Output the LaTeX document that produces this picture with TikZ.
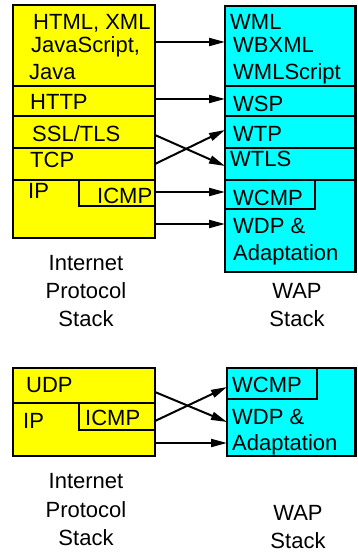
\documentclass[tikz,border=0pt]{standalone}
\usepackage{fontspec}
\setmainfont{Liberation Sans}
\usetikzlibrary{arrows.meta,fit}
\definecolor{stackyellow}{RGB}{255,255,0}
\definecolor{stackcyan}{RGB}{0,255,255}
\begin{document}
\begin{tikzpicture}[x=1pt,y=-1pt,
  box/.style={draw, line width=2.5pt, inner sep=0pt, outer sep=0pt},
  ybox/.style={box, fill=stackyellow},
  cbox/.style={box, fill=stackcyan},
  lbl/.style={anchor=base west, inner sep=0pt, font=\fontsize{22}{26}\selectfont},
  captxt/.style={anchor=base, inner sep=0pt, font=\fontsize{22}{26}\selectfont},
  arr/.style={line width=2pt, -{Triangle[length=16pt,width=8pt]}}]
\useasboundingbox (0,0) rectangle (357,553);
% ---------- top: left stack ----------
\node[ybox, fit={(13,5) (155,86)}] (html) {};
\node[ybox, fit={(13,86) (155,116)}] (http) {};
\node[ybox, fit={(13,116) (155,148)}] (ssl) {};
\node[ybox, fit={(13,148) (155,180)}] (tcp) {};
\node[ybox, fit={(13,180) (155,238)}] (ip) {};
\node[ybox, fit={(79,180) (155,206)}] (icmp) {};
\node[lbl] (thtml) at (33,30) {HTML, XML};
\node[lbl] (tjs) at (31,53) {JavaScript,};
\node[lbl] (tjava) at (29,80) {Java};
\node[lbl] (thttp) at (30,110) {HTTP};
\node[lbl] (tssl) at (32,142) {SSL/TLS};
\node[lbl] (ttcp) at (30,168) {TCP};
\node[lbl] (tip) at (28,199) {IP};
\node[lbl] (ticmp) at (97,204) {ICMP};
% ---------- top: right stack ----------
\node[cbox, fit={(225,6) (355.5,86)}] (wml) {};
\node[cbox, fit={(225,86) (355.5,116)}] (wsp) {};
\node[cbox, fit={(225,116) (355.5,148)}] (wtp) {};
\node[cbox, fit={(225,148) (355.5,180)}] (wtls) {};
\node[cbox, fit={(225,180) (355.5,272)}] (wdp) {};
\node[cbox, fit={(225,180) (315,209)}] (wcmp) {};
\node[lbl] (twml) at (230,30) {WML};
\node[lbl] (twbxml) at (233,53) {WBXML};
\node[lbl] (twmls) at (233,80) {WMLScript};
\node[lbl] (twsp) at (233,112) {WSP};
\node[lbl] (twtp) at (233,142) {WTP};
\node[lbl] (twtls) at (230,167) {WTLS};
\node[lbl] (twcmp) at (233,205) {WCMP};
\node[lbl] (twdp) at (233,233) {WDP \&};
\node[lbl] (tadapt) at (233,260) {Adaptation};
% captions
\node[captxt] (c1) at (86,270) {Internet};
\node[captxt] (c2) at (86,298) {Protocol};
\node[captxt] (c3) at (86,326) {Stack};
\node[captxt] (c4) at (297,298) {WAP};
\node[captxt] (c5) at (297,326) {Stack};
% arrows
\draw[arr] ([yshift=3.5pt]html.east) -- ([yshift=4pt]wml.west);
\draw[arr] ([yshift=2pt]http.east) -- ([yshift=2pt]wsp.west);
\draw[arr] ([yshift=-3pt]ssl.east) -- ([yshift=-2pt]wtls.west);
\draw[arr] (tcp.east) -- ([yshift=2pt]wtp.west);
\draw[arr] ([yshift=1pt]icmp.east) -- ([yshift=2.5pt]wcmp.west);
\draw[arr] ([yshift=-15pt]ip.east) -- ([yshift=2pt]wdp.west);
% ---------- bottom ----------
\node[ybox, fit={(13,368) (155,403)}] (udp) {};
\node[ybox, fit={(13,403) (155,456)}] (ipb) {};
\node[ybox, fit={(79,403) (155,430)}] (icmpb) {};
\node[lbl] (tudp) at (26,392) {UDP};
\node[lbl] (tipb) at (23,428) {IP};
\node[lbl] (ticmpb) at (85,425) {ICMP};
\node[cbox, fit={(227,368) (355.5,456)}] (wdpb) {};
\node[cbox, fit={(227,368) (317,399)}] (wcmpb) {};
\node[lbl] (twcmpb) at (232,392) {WCMP};
\node[lbl] (twdpb) at (232,424) {WDP \&};
\node[lbl] (tadaptb) at (232,450) {Adaptation};
\node[captxt] (d1) at (86,488) {Internet};
\node[captxt] (d2) at (86,517) {Protocol};
\node[captxt] (d3) at (86,545) {Stack};
\node[captxt] (d4) at (298,520) {WAP};
\node[captxt] (d5) at (298,548) {Stack};
\draw[arr] ([yshift=-6.5pt]udp.east) -- ([yshift=-10pt]wdpb.west);
\draw[arr] ([yshift=-4.5pt]icmpb.east) -- ([yshift=-3.5pt]wcmpb.west);
\draw[arr] ([yshift=-13.5pt]ipb.east) -- ([yshift=-31pt]wdpb.west);
\end{tikzpicture}
\end{document}
